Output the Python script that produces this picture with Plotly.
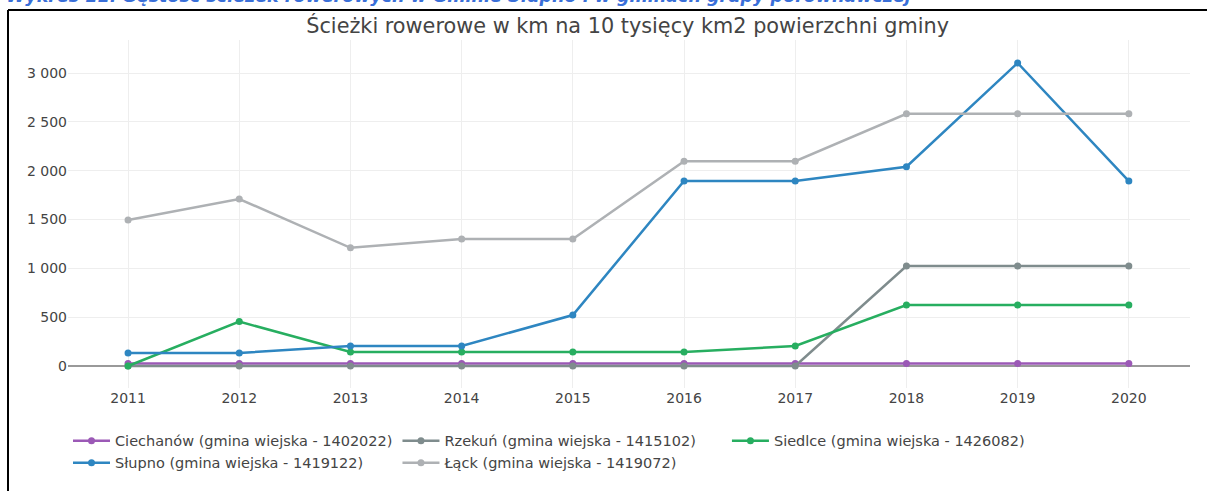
import plotly.graph_objects as go

years = [2011, 2012, 2013, 2014, 2015, 2016, 2017, 2018, 2019, 2020]
names = [
    "Ciechanów (gmina wiejska - 1402022)",
    "Rzekuń (gmina wiejska - 1415102)",
    "Siedlce (gmina wiejska - 1426082)",
    "Słupno (gmina wiejska - 1419122)",
    "Łąck (gmina wiejska - 1419072)",
]
ciechanow = [27, 27, 27, 27, 27, 27, 27, 27, 27, 27]
rzekun = [0, 0, 0, 0, 0, 0, 0, 1024, 1024, 1024]
siedlce = [0, 455, 143, 143, 143, 143, 205, 625, 625, 625]
slupno = [133, 133, 205, 205, 522, 1894, 1894, 2040, 3103, 1894]
lack = [1495, 1710, 1210, 1300, 1300, 2097, 2097, 2582, 2582, 2582]
colors = ["#9b59b6", "#7f8c8d", "#27ae60", "#2e86c1", "#aeb1b4"]
series = [ciechanow, rzekun, siedlce, slupno, lack]

heading = "Wykres 11. Gęstość ścieżek rowerowych w Gminie Słupno i w gminach grupy porównawczej"
title = "Ścieżki rowerowe w km na 10 tysięcy km2 powierzchni gminy"

fig = go.Figure()
for n, s, c in zip(names, series, colors):
    fig.add_trace(go.Scatter(x=years, y=s, name=n, mode="lines+markers",
                             line=dict(color=c, width=2.5),
                             marker=dict(color=c, size=7)))

W, H = 1207, 491
L, R, T, B = 68, 17, 40, 103
pw, ph = W - L - R, H - T - B

fig.update_layout(
    width=W, height=H,
    margin=dict(l=L, r=R, t=T, b=B, autoexpand=False),
    paper_bgcolor="white", plot_bgcolor="white",
    separators=", ",
    font=dict(family="DejaVu Sans", size=13, color="#444"),
    title=dict(text=title, x=0.52, xanchor="center", y=1 - 26 / H, yanchor="middle",
               font=dict(size=20.8, color="#444")),
    xaxis=dict(range=[2010.46, 2020.55], tickvals=years, showgrid=True,
               gridcolor="#eeeeee", zeroline=False, showline=False, automargin=False,
               ticks="", tickfont=dict(size=14, color="#444")),
    yaxis=dict(range=[-225, 3338], tickvals=[0, 500, 1000, 1500, 2000, 2500, 3000],
               tickformat=",d", showgrid=True, gridcolor="#eeeeee", automargin=False,
               zeroline=True, zerolinecolor="#999", zerolinewidth=2,
               ticks="", tickfont=dict(size=14, color="#444")),
    legend=dict(orientation="h", x=0, xanchor="left", y=-0.106, yanchor="top",
                itemwidth=37, font=dict(size=14.5, color="#444"), traceorder="normal"),
    showlegend=True,
    hovermode="closest",
)

# frame lines of the surrounding document
fx = (8 - L) / pw
fy = (H - B - 10) / ph
fig.add_shape(type="line", xref="paper", yref="paper", x0=fx, x1=(W - L + 5) / pw,
              y0=fy, y1=fy, line=dict(color="black", width=2))
fig.add_shape(type="line", xref="paper", yref="paper", x0=fx, x1=fx,
              y0=fy, y1=-(B + 5) / ph, line=dict(color="black", width=2))

fig.add_annotation(text="<b><i>" + heading + "</i></b>", xref="paper", yref="paper",
                   x=(4 - L) / pw, xanchor="left", y=(H - B - 8) / ph, yanchor="bottom",
                   showarrow=False, font=dict(size=17.5, color="#3a6fd8", family="DejaVu Sans"))

fig.write_html("out.html", config={"displayModeBar": False},
               post_script="document.body.style.margin='0';document.body.style.overflow='hidden';")
